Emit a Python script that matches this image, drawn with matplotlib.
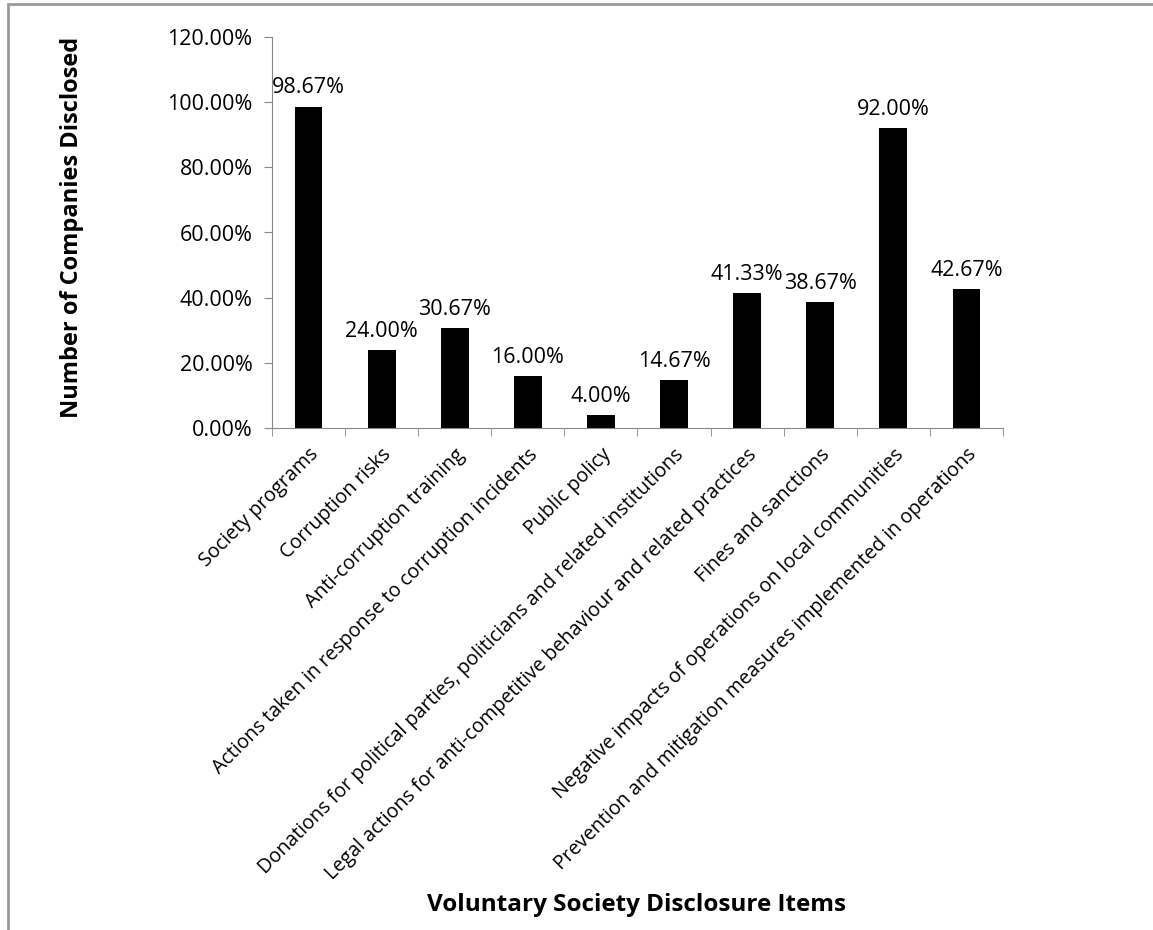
import matplotlib.pyplot as plt
from matplotlib.patches import Rectangle
from matplotlib.ticker import FuncFormatter

plt.rcParams['font.family'] = ['Open Sans', 'DejaVu Sans']

items = [
    "Society programs",
    "Corruption risks",
    "Anti-corruption training",
    "Actions taken in response to corruption incidents",
    "Public policy",
    "Donations for political parties, politicians and related institutions",
    "Legal actions for anti-competitive behaviour and related practices",
    "Fines and sanctions",
    "Negative impacts of operations on local communities",
    "Prevention and mitigation measures implemented in operations",
]
disclosed = [98.67, 24.00, 30.67, 16.00, 4.00, 14.67, 41.33, 38.67, 92.00, 42.67]

fig = plt.figure(figsize=(11.53, 9.30), dpi=100)
ax = fig.add_axes([0.2359, 0.5398, 0.634, 0.4204])

x = list(range(len(items)))
bars = ax.bar(x, disclosed, width=0.38, color='black')
for b, v in zip(bars, disclosed):
    ax.text(b.get_x() + b.get_width() / 2, v + 2.5, f"{v:.2f}%",
            ha='center', va='bottom', fontsize=15.5)

ax.set_xlim(-0.5, len(items) - 0.5)
ax.set_ylim(0, 120)
ax.set_yticks(range(0, 121, 20))
ax.yaxis.set_major_formatter(FuncFormatter(lambda v, p: f"{v:.2f}%"))
ax.set_xticks(x)
ax.set_xticklabels(items, rotation=45, ha='right', rotation_mode='anchor', fontsize=14.2)
ax.set_xticks([i - 0.5 for i in range(len(items) + 1)], minor=True)
ax.tick_params(axis='x', which='major', length=0, pad=12)
ax.tick_params(axis='x', which='minor', length=6, color='#888888')
ax.tick_params(axis='y', length=6, color='#888888', labelsize=15.5, pad=8)

for s in ['top', 'right']:
    ax.spines[s].set_visible(False)
for s in ['left', 'bottom']:
    ax.spines[s].set_color('#888888')

fig.text(0.0625, 0.755, "Number of Companies Disclosed", rotation=90,
         ha='center', va='center', fontsize=17, fontweight='bold')
fig.text(0.552, 0.027, "Voluntary Society Disclosure Items",
         ha='center', va='center', fontsize=17.5, fontweight='bold')

fig.patches.append(Rectangle((8 / 1153, -0.1), 1.2, 1.1 - 4 / 930,
                             transform=fig.transFigure, fill=False,
                             edgecolor='#999999', linewidth=2))

fig.savefig("out.png", dpi=100)
